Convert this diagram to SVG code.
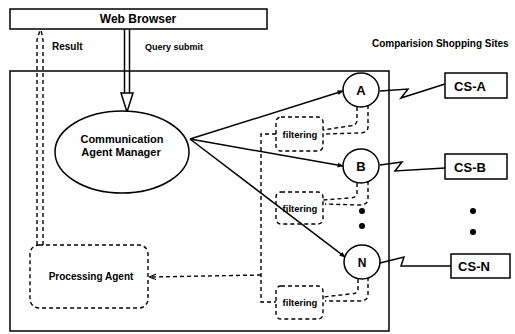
<svg xmlns="http://www.w3.org/2000/svg" width="515" height="334" viewBox="0 0 515 334">
<style>
text{font-family:"Liberation Sans",Arial,sans-serif;font-weight:bold;fill:#000}
.box{fill:#fff;stroke:#000;stroke-width:1.5}
.dash{fill:none;stroke:#000;stroke-width:1.4;stroke-dasharray:4,3}
.dbox{fill:none;stroke:#000;stroke-width:1.4;stroke-dasharray:4,3}
.line{fill:none;stroke:#000;stroke-width:1.5}
</style>
<defs>
<marker id="ah" viewBox="0 0 10 10" refX="9" refY="5" markerWidth="6" markerHeight="6" orient="auto" markerUnits="userSpaceOnUse">
<path d="M0,1 L10,5 L0,9 z" fill="#000"/>
</marker>
<marker id="ahs" viewBox="0 0 10 10" refX="9" refY="5" markerWidth="7" markerHeight="7" orient="auto" markerUnits="userSpaceOnUse">
<path d="M0,1 L10,5 L0,9" fill="none" stroke="#000" stroke-width="1.5"/>
</marker>
</defs>
<rect width="515" height="334" fill="#fff"/>

<g id="system">
<rect class="box" x="10" y="71" width="379" height="260"/>
</g>

<g id="web-browser">
<rect class="box" x="10" y="9" width="257" height="20"/>
<text x="138" y="23" font-size="12" text-anchor="middle">Web Browser</text>
</g>

<g id="labels">
<text x="52" y="50" font-size="10">Result</text>
<text x="145" y="50" font-size="9">Query submit</text>
<text x="372" y="47" font-size="10">Comparision Shopping Sites</text>
</g>

<g id="processing-agent">
<rect class="dbox" x="30" y="245" width="118" height="63" rx="9"/>
<text x="91" y="280" font-size="10" text-anchor="middle">Processing Agent</text>
</g>

<g id="filter-1">
<rect class="dbox" x="276" y="117" width="47" height="34" rx="5"/>
<text x="300" y="138" font-size="9.5" text-anchor="middle">filtering</text>
</g>
<g id="filter-2">
<rect class="dbox" x="276" y="192" width="47" height="32" rx="5"/>
<text x="300" y="212" font-size="9.5" text-anchor="middle">filtering</text>
</g>
<g id="filter-3">
<rect class="dbox" x="276" y="286" width="47" height="33" rx="5"/>
<text x="300" y="306" font-size="9.5" text-anchor="middle">filtering</text>
</g>

<g id="connectors">
<line class="line" x1="124.5" y1="29" x2="124.5" y2="93"/>
<line class="line" x1="129.5" y1="29" x2="129.5" y2="93"/>
<polygon points="121,93 133,93 127,112" fill="#fff" stroke="#000" stroke-width="1.5"/>
<path class="dash" d="M37,245 L37,40 L40,30"/>
<path class="dash" d="M43,245 L43,40 L41,30"/>
<line class="line" x1="190" y1="139" x2="343" y2="91" marker-end="url(#ah)"/>
<line class="line" x1="190" y1="139" x2="343" y2="166" marker-end="url(#ah)"/>
<line class="line" x1="190" y1="139" x2="345" y2="257" marker-end="url(#ah)"/>
<polyline class="line" points="380,91 408,89 401,98 445,84"/>
<polyline class="line" points="380,165 402,162 395,171 445,168"/>
<polyline class="line" points="380,263 404,257 401,266 451,266"/>
<path class="dash" d="M357,107 L357,120 Q357,126 349,126 L323,130"/>
<path class="dash" d="M368,105 L368,127 Q368,133 359,133 L325,134"/>
<path class="dash" d="M357,183 L357,193 Q357,198 349,198 L323,200"/>
<path class="dash" d="M368,181 L368,199 Q368,205 359,205 L325,204"/>
<path class="dash" d="M358,279 L358,289 Q358,294 350,294 L323,297"/>
<path class="dash" d="M368,277 L368,295 Q368,301 359,301 L325,301"/>
<path class="dash" d="M276,134 L261,134 L261,302 L276,302"/>
<line class="dash" x1="261" y1="275" x2="150" y2="277" marker-end="url(#ahs)"/>
</g>

<g id="cam">
<ellipse class="box" cx="122" cy="152" rx="67" ry="41"/>
<text x="122" y="143" font-size="11" text-anchor="middle">Communication</text>
<text x="121" y="156" font-size="11" text-anchor="middle">Agent Manager</text>
</g>

<g id="agent-a">
<ellipse class="box" cx="361" cy="90" rx="18" ry="17"/>
<text x="361" y="95" font-size="13" text-anchor="middle">A</text>
</g>
<g id="agent-b">
<ellipse class="box" cx="361" cy="166" rx="18" ry="17"/>
<text x="361" y="171" font-size="13" text-anchor="middle">B</text>
</g>
<g id="agent-n">
<ellipse class="box" cx="362" cy="262" rx="18" ry="17"/>
<text x="362" y="267" font-size="12" text-anchor="middle">N</text>
</g>

<g id="dots">
<circle cx="362" cy="211" r="3"/>
<circle cx="362" cy="226" r="3"/>
<circle cx="473" cy="211" r="3"/>
<circle cx="473" cy="232" r="3"/>
</g>

<g id="cs-a">
<rect class="box" x="445" y="73" width="62" height="25"/>
<text x="470" y="91" font-size="13" text-anchor="middle">CS-A</text>
</g>
<g id="cs-b">
<rect class="box" x="445" y="154" width="62" height="25"/>
<text x="470" y="172" font-size="13" text-anchor="middle">CS-B</text>
</g>
<g id="cs-n">
<rect class="box" x="451" y="254" width="59" height="24"/>
<text x="474" y="271" font-size="13" text-anchor="middle">CS-N</text>
</g>
</svg>
